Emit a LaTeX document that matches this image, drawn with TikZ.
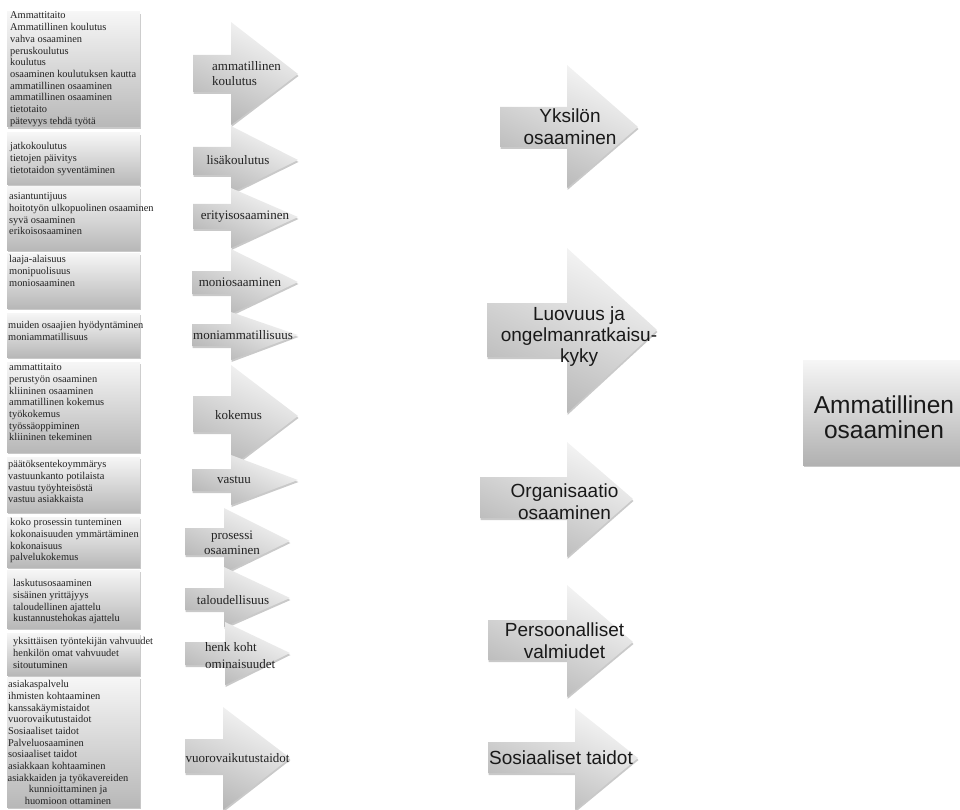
\documentclass[tikz,border=0pt]{standalone}
\usepackage{fontspec}
\setmainfont{Liberation Serif}
\newfontfamily\labelsans{Liberation Sans}
\usetikzlibrary{shadows}

\definecolor{boxlight}{HTML}{F6F6F6}
\definecolor{boxdark}{HTML}{B8B8B8}
\definecolor{arrowlight}{HTML}{F7F7F7}
\definecolor{arrowdark}{HTML}{B6B6B6}
\definecolor{inktext}{HTML}{222222}

\tikzset{
  softshadow/.style={drop shadow={opacity=0.3, shadow xshift=0.5pt, shadow yshift=-2pt, fill=black!70}},
  listbox/.style={top color=boxlight, bottom color=boxdark, softshadow},
  arrowfill/.style={top color=arrowlight, bottom color=arrowdark, shading angle=-25, softshadow},
  goalbox/.style={top color=boxlight, bottom color=boxdark!110, softshadow},
  listtext/.style={anchor=north west, inner sep=0pt, align=left, text=inktext,
    font=\fontsize{10.4}{11.67}\selectfont},
  listcentre/.style={anchor=north, inner sep=0pt, align=center, text=inktext,
    font=\fontsize{10.4}{11.67}\selectfont},
  midlabel/.style={inner sep=0pt, text=inktext, font=\fontsize{13}{15}\selectfont},
  biglabel/.style={inner sep=0pt, align=center, text=black!90,
    font=\labelsans\fontsize{19}{22}\selectfont},
  goallabel/.style={inner sep=0pt, align=center, text=black!90,
    font=\labelsans\fontsize{24.5}{25}\selectfont},
}

% list panel: top, bottom
\newcommand\listpanel[2]{\path[listbox] (7,#1) rectangle (140,#2);}
% block arrow: style, left, shaft top, shaft bottom, head x, head top, head bottom, tip x, tip y
\newcommand\blockarrow[9]{%
  \path[#1] (#2,#3) -- (#5,#3) -- (#5,#6) -- (#8,#9) -- (#5,#7) -- (#5,#4) -- (#2,#4) -- cycle;}

\begin{document}
\begin{tikzpicture}[x=1pt,y=-1pt]
\useasboundingbox (0,0) rectangle (960,810);

% ---- left column: lists of expressions ----
\listpanel{12}{127}
\listpanel{133}{185}
\listpanel{187}{250}
\listpanel{253}{308}
\listpanel{313}{357}
\listpanel{362}{452}
\listpanel{457}{512}
\listpanel{517}{567}
\listpanel{570}{628}
\listpanel{633}{675}
\listpanel{677}{807}

% ---- middle column: category arrows ----
\blockarrow{arrowfill}{193}{55}{92}{231}{22}{125}{298}{74}
\blockarrow{arrowfill}{193}{147}{175}{231}{126}{193}{298}{160}
\blockarrow{arrowfill}{193}{204}{229}{231}{188}{248}{298}{217}
\blockarrow{arrowfill}{192}{271}{294}{231}{249}{314}{298}{282}
\blockarrow{arrowfill}{192}{324}{346}{231}{312}{360}{298}{335}
\blockarrow{arrowfill}{193}{396}{432}{231}{365}{467}{298}{416}
\blockarrow{arrowfill}{192}{469}{491}{231}{455}{505}{298}{480}
\blockarrow{arrowfill}{185}{528}{555}{224}{508}{573}{290}{541}
\blockarrow{arrowfill}{185}{588}{610}{224}{567}{627}{290}{598}
\blockarrow{arrowfill}{185}{642}{665}{225}{622}{685}{290}{653}
\blockarrow{arrowfill}{185}{739}{773}{223}{707}{810}{290}{758}

% ---- right column: main themes ----
\blockarrow{arrowfill}{500}{107}{147}{567}{65}{188}{638}{127}
\blockarrow{arrowfill}{487}{303}{357}{567}{248}{413}{657}{330}
\blockarrow{arrowfill}{480}{477}{518}{567}{442}{557}{633}{499}
\blockarrow{arrowfill}{488}{620}{660}{567}{585}{697}{633}{642}
\blockarrow{arrowfill}{488}{742}{773}{575}{708}{810}{638}{758}

% ---- result ----
\path[goalbox] (803,360) rectangle (960,465);

% ---- list texts ----
\node[listtext] (l1) at (10,{18.8-8.17}) {\strut Ammattitaito\\Ammatillinen koulutus\\vahva osaaminen\\peruskoulutus\\koulutus\\osaaminen koulutuksen kautta\\ammatillinen osaaminen\\ammatillinen osaaminen\\tietotaito\\pätevyys tehdä työtä};
\node[listtext] (l2) at (10,{149.6-8.17}) {\strut jatkokoulutus\\tietojen päivitys\\tietotaidon syventäminen};
\node[listtext] (l3) at (9,{199.6-8.17}) {\strut asiantuntijuus\\hoitotyön ulkopuolinen osaaminen\\syvä osaaminen\\erikoisosaaminen};
\node[listtext] (l4) at (9,{262.6-8.17}) {\strut laaja-alaisuus\\monipuolisuus\\moniosaaminen};
\node[listtext] (l5) at (8,{328.6-8.17}) {\strut muiden osaajien hyödyntäminen\\moniammatillisuus};
\node[listtext] (l6) at (9,{370.6-8.17}) {\strut ammattitaito\\perustyön osaaminen\\kliininen osaaminen\\ammatillinen kokemus\\työkokemus\\työssäoppiminen\\kliininen tekeminen};
\node[listtext] (l7) at (8,{467.6-8.17}) {\strut päätöksentekoymmärys\\vastuunkanto potilaista\\vastuu työyhteisöstä\\vastuu asiakkaista};
\node[listtext] (l8) at (10,{525.6-8.17}) {\strut koko prosessin tunteminen\\kokonaisuuden ymmärtäminen\\kokonaisuus\\palvelukokemus};
\node[listtext] (l9) at (13,{586.6-8.17}) {\strut laskutusosaaminen\\sisäinen yrittäjyys\\taloudellinen ajattelu\\kustannustehokas ajattelu};
\node[listtext] (l10) at (13,{644.6-8.17}) {\strut yksittäisen työntekijän vahvuudet\\henkilön omat vahvuudet\\sitoutuminen};
\node[listtext] (l11) at (8,{687.6-8.17}) {\strut asiakaspalvelu\\ihmisten kohtaaminen\\kanssakäymistaidot\\vuorovaikutustaidot\\Sosiaaliset taidot\\Palveluosaaminen\\sosiaaliset taidot\\asiakkaan kohtaaminen};
\node[listcentre] (l11b) at (68,{781.0-8.17}) {\strut asiakkaiden ja työkavereiden\\kunnioittaminen ja\\huomioon ottaminen};

% ---- category labels ----
\node[midlabel, align=left, anchor=west] (m1) at (212,74) {ammatillinen\\koulutus};
\node[midlabel] (m2) at (238,160) {lisäkoulutus};
\node[midlabel] (m3) at (245,217) {erityisosaaminen};
\node[midlabel] (m4) at (240,282) {moniosaaminen};
\node[midlabel] (m5) at (243,335) {moniammatillisuus};
\node[midlabel] (m6) at (238.5,415) {kokemus};
\node[midlabel] (m7) at (234,480) {vastuu};
\node[midlabel, align=center] (m8) at (232,543) {prosessi\\osaaminen};
\node[midlabel] (m9) at (233,600) {taloudellisuus};
\node[midlabel, align=left, anchor=west, font=\fontsize{13}{17}\selectfont] (m10) at (205,656) {henk koht\\ominaisuudet};
\node[midlabel] (m11) at (237.5,758) {vuorovaikutustaidot};

% ---- theme labels ----
\node[biglabel] (r1) at (570,127) {Yksilön\\osaaminen};
\node[biglabel, font=\labelsans\fontsize{19}{21}\selectfont] (r2) at (579,337) {Luovuus ja\\ongelmanratkaisu-\\kyky};
\node[biglabel] (r3) at (564.5,502) {Organisaatio\\osaaminen};
\node[biglabel] (r4) at (564.5,641) {Persoonalliset\\valmiudet};
\node[biglabel] (r5) at (561,758) {Sosiaaliset taidot};

\node[goallabel] (goal) at (884,417) {Ammatillinen\\osaaminen};
\end{tikzpicture}
\end{document}
